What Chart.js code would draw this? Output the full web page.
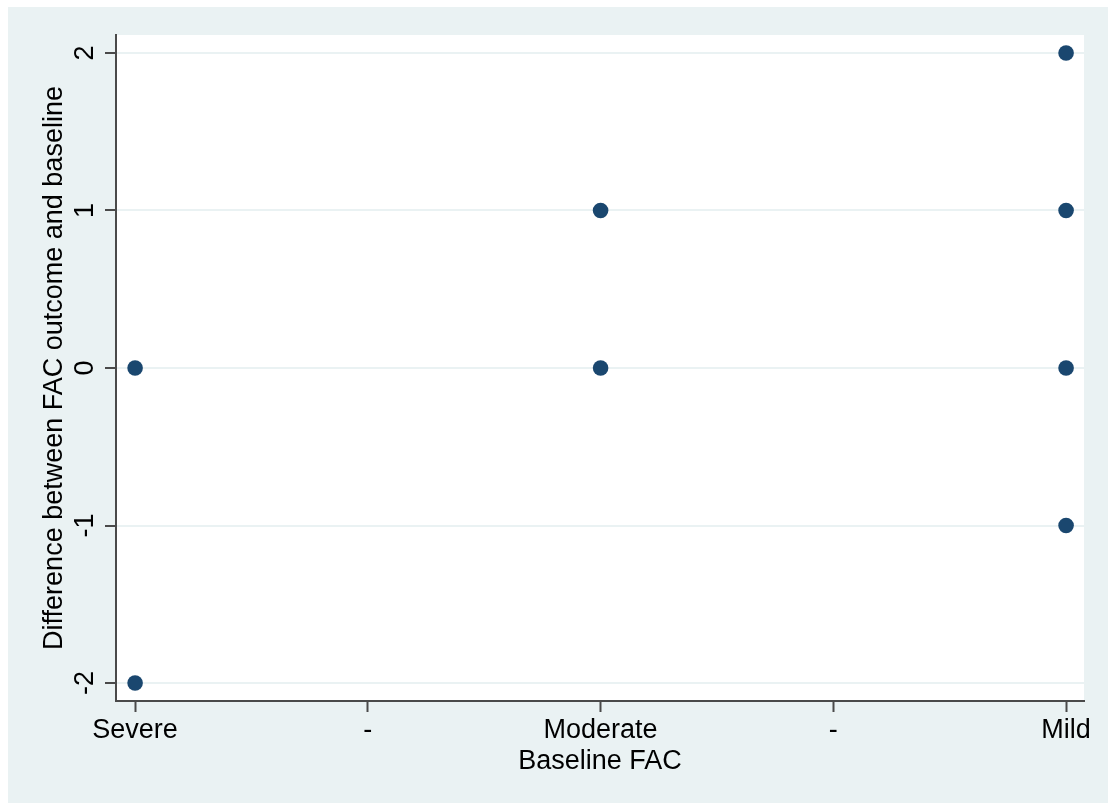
<!DOCTYPE html>
<html>
<head>
<meta charset="utf-8">
<script src="https://cdn.jsdelivr.net/npm/chart.js@4.4.1/dist/chart.umd.min.js"></script>
<style>
  html, body { margin: 0; padding: 0; background: #ffffff; }
  canvas { display: block; }
</style>
</head>
<body>
<canvas id="c" width="1108" height="803"></canvas>
<script>
// Baseline FAC categories along the x axis and their positions
const categories = ['Severe', '-', 'Moderate', '-', 'Mild'];
const categoryPositions = [1, 2, 3, 4, 5];
// y axis tick values
const yTickValues = [-2, -1, 0, 1, 2];
// Observations: baseline category position and FAC change (outcome - baseline)
const baselinePos   = [1, 1, 3, 3, 5, 5, 5, 5];
const facDifference = [0, -2, 1, 0, 2, 1, 0, -1];

const FONT = '"Liberation Sans", Arial, Helvetica, sans-serif';
const REGION_BG = '#EAF2F3';
const AXIS_COLOR = '#4a4a4a';
const MARKER = '#1a476f';

const points = baselinePos.map((x, i) => ({ x: x, y: facDifference[i] }));

// Graph region backdrop plus rotated y tick labels
const stataFrame = {
  id: 'stataFrame',
  beforeDraw(chart) {
    const { ctx, width, height, chartArea: a } = chart;
    ctx.save();
    ctx.fillStyle = '#ffffff';
    ctx.fillRect(0, 0, width, height);
    ctx.fillStyle = REGION_BG;
    ctx.fillRect(8, 7, width - 8, height - 7);
    ctx.fillStyle = '#ffffff';
    ctx.fillRect(a.left, a.top, a.right - a.left, a.bottom - a.top);
    ctx.restore();
  },
  afterDraw(chart) {
    const { ctx } = chart;
    const s = chart.scales.y;
    ctx.save();
    ctx.fillStyle = '#000000';
    ctx.font = '27px ' + FONT;
    ctx.textAlign = 'center';
    ctx.textBaseline = 'middle';
    s.ticks.forEach(t => {
      const y = s.getPixelForValue(t.value);
      ctx.save();
      ctx.translate(86, y);
      ctx.rotate(-Math.PI / 2);
      ctx.fillText(String(t.value), 0, 0);
      ctx.restore();
    });
    ctx.restore();
  }
};

new Chart(document.getElementById('c'), {
  type: 'scatter',
  data: {
    datasets: [{
      data: points,
      backgroundColor: MARKER,
      borderColor: MARKER,
      borderWidth: 0,
      pointRadius: 7.8,
      pointHoverRadius: 7.8
    }]
  },
  options: {
    responsive: false,
    devicePixelRatio: 1,
    animation: false,
    events: [],
    layout: { padding: { top: 35, right: 24, left: 0, bottom: 0 } },
    plugins: {
      legend: { display: false },
      tooltip: { enabled: false }
    },
    scales: {
      x: {
        type: 'linear',
        min: 0.918,
        max: 5.077,
        afterBuildTicks: s => { s.ticks = categoryPositions.map(v => ({ value: v })); },
        afterFit: s => { s.height = 102; },
        border: { display: true, color: AXIS_COLOR, width: 2 },
        grid: {
          drawOnChartArea: false,
          drawTicks: true,
          tickLength: 11,
          tickColor: AXIS_COLOR,
          tickWidth: 2
        },
        ticks: {
          autoSkip: false,
          maxRotation: 0,
          padding: 2,
          color: '#000000',
          font: { family: FONT, size: 27 },
          callback: v => categories[categoryPositions.indexOf(v)]
        },
        title: {
          display: true,
          text: 'Baseline FAC',
          color: '#000000',
          font: { family: FONT, size: 27, lineHeight: 1 },
          padding: { top: 0, bottom: 28 }
        }
      },
      y: {
        type: 'linear',
        min: -2.114,
        max: 2.114,
        afterBuildTicks: s => { s.ticks = yTickValues.map(v => ({ value: v })); },
        afterFit: s => { s.width = 116; },
        border: { display: true, color: AXIS_COLOR, width: 2 },
        grid: {
          color: REGION_BG,
          lineWidth: 2,
          drawTicks: true,
          tickLength: 11,
          tickColor: AXIS_COLOR,
          tickWidth: 2
        },
        ticks: { display: false },
        title: {
          display: true,
          text: 'Difference between FAC outcome and baseline',
          color: '#000000',
          font: { family: FONT, size: 27, lineHeight: 1 },
          padding: { top: 41, bottom: 0 }
        }
      }
    }
  },
  plugins: [stataFrame]
});
</script>
</body>
</html>
